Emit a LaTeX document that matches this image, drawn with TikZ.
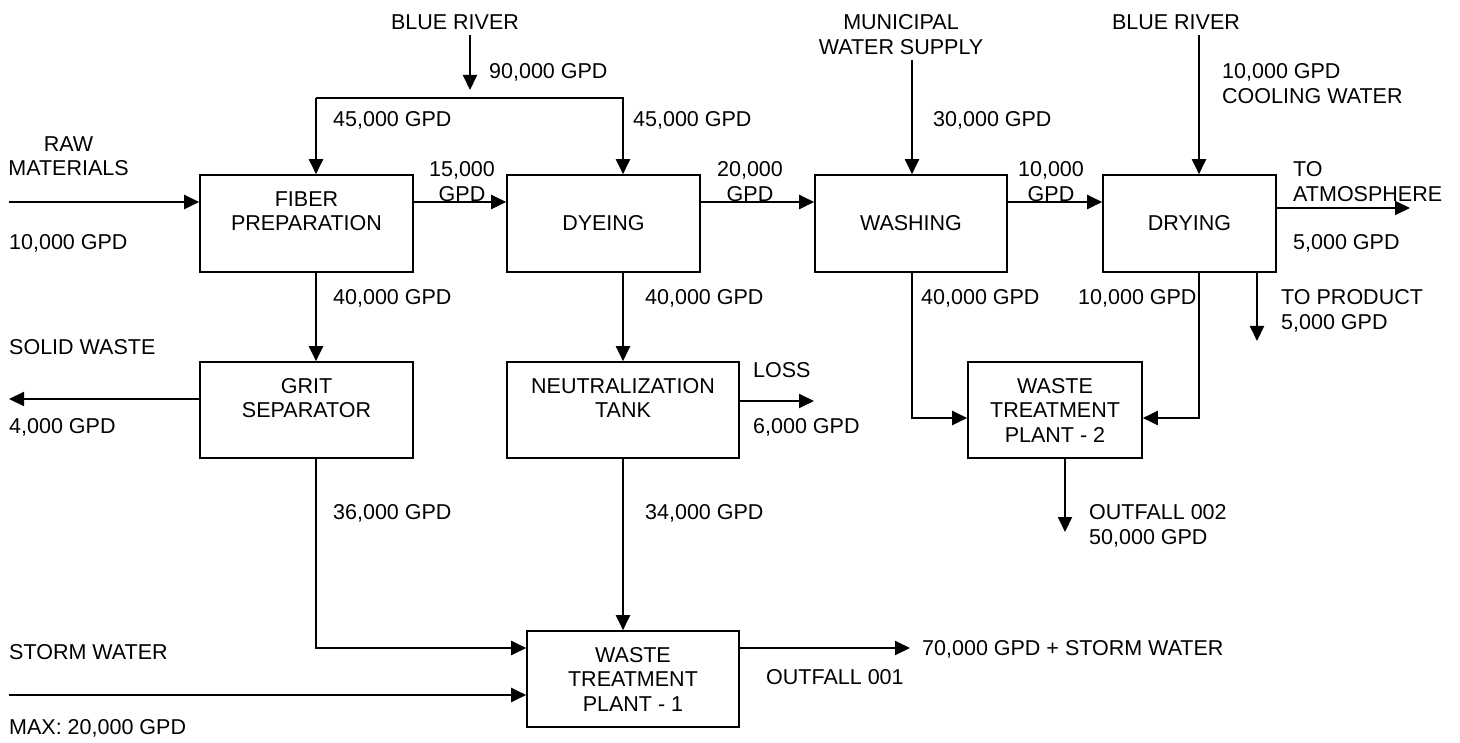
\documentclass[tikz,border=0pt]{standalone}
\usepackage{fontspec}
\setmainfont{Liberation Sans}
\usetikzlibrary{arrows.meta}
\begin{document}
\begin{tikzpicture}[x=1pt,y=-1pt,
  font=\fontsize{21.5}{24.5}\selectfont,
  box/.style={draw,line width=1.6pt,inner sep=0pt,align=center},
  arr/.style={line width=2pt,-{Triangle[length=15pt,width=14pt]}},
  ln/.style={line width=2pt},
  lbl/.style={anchor=north west,inner sep=0pt,align=left},
  lblc/.style={anchor=north,inner sep=0pt,align=center}]
\useasboundingbox (0,0) rectangle (1460,743);
% boxes
\node[box,minimum width=213pt,minimum height=97pt] (fiber) at (306.5,223.5) {FIBER\\PREPARATION\\~};
\node[box,minimum width=193pt,minimum height=97pt] (dye) at (603.5,223.5) {DYEING};
\node[box,minimum width=192pt,minimum height=97pt] (wash) at (911,223.5) {WASHING};
\node[box,minimum width=173pt,minimum height=97pt] (dry) at (1189.5,223.5) {DRYING};
\node[box,minimum width=213pt,minimum height=96pt] (grit) at (306.5,410) {GRIT\\SEPARATOR\\~};
\node[box,minimum width=232pt,minimum height=96pt] (neut) at (623,410) {NEUTRALIZATION\\TANK\\~};
\node[box,minimum width=212pt,minimum height=96pt] (wtp1) at (633,679) {WASTE\\TREATMENT\\PLANT - 1};
\node[box,minimum width=174pt,minimum height=96pt] (wtp2) at (1055,410) {WASTE\\TREATMENT\\PLANT - 2};
% coordinates
\coordinate (brA) at (470,35);
\coordinate (brB) at (470,90);
\coordinate (sl) at (316,98);
\coordinate (sr) at (623,98);
\coordinate (r1) at (0,202);
\coordinate (raw) at (9,202);
\coordinate (atm) at (1410,208);
\coordinate (mun) at (912,60);
\coordinate (br2) at (1199,35);
\coordinate (wl) at (912,418);
\coordinate (dl) at (1199,418);
\coordinate (prodA) at (1257,272);
\coordinate (prodB) at (1257,341);
\coordinate (sw) at (9,399);
\coordinate (loss) at (814,401);
\coordinate (g1) at (316,648);
\coordinate (st) at (9,695);
\coordinate (of1) at (910,648);
\coordinate (of2A) at (1065,458);
\coordinate (of2B) at (1065,532);
% connectors
\draw[arr] (brA) -- (brB);
\draw[arr] (sl) -- (sl |- fiber.north);
\draw[arr] (sl) -- (sr) -- (sr |- dye.north);
\draw[arr] (raw) -- (raw -| fiber.west);
\draw[arr] (fiber.east |- r1) -- (dye.west |- r1);
\draw[arr] (dye.east |- r1) -- (wash.west |- r1);
\draw[arr] (wash.east |- r1) -- (dry.west |- r1);
\draw[arr] (dry.east |- atm) -- (atm);
\draw[arr] (mun) -- (mun |- wash.north);
\draw[arr] (br2) -- (br2 |- dry.north);
\draw[arr] (sl |- fiber.south) -- (sl |- grit.north);
\draw[arr] (sr |- dye.south) -- (sr |- neut.north);
\draw[arr] (wl |- wash.south) -- (wl) -- (wl -| wtp2.west);
\draw[arr] (dl |- dry.south) -- (dl) -- (dl -| wtp2.east);
\draw[arr] (prodA) -- (prodB);
\draw[arr] (grit.west |- sw) -- (sw);
\draw[arr] (neut.east |- loss) -- (loss);
\draw[arr] (sl |- grit.south) -- (g1) -- (g1 -| wtp1.west);
\draw[arr] (sr |- neut.south) -- (sr |- wtp1.north);
\draw[arr] (st) -- (st -| wtp1.west);
\draw[arr] (wtp1.east |- of1) -- (of1);
\draw[arr] (of2A) -- (of2B);
% labels
\node[lblc] (tBR1) at (455,14.5) {BLUE RIVER};
\node[lbl] (t90) at (489,63.5) {90,000 GPD};
\node[lbl] (t45a) at (333,111.5) {45,000 GPD};
\node[lbl] (t45b) at (633,111.5) {45,000 GPD};
\node[lblc] (tRaw) at (68.5,136.5) {RAW\\MATERIALS};
\node[lbl] (t10a) at (9,234.5) {10,000 GPD};
\node[lblc] (t15) at (462,161.5) {15,000\\GPD};
\node[lblc] (t20) at (750,161.5) {20,000\\GPD};
\node[lblc] (tMun) at (901,14.5) {MUNICIPAL\\WATER SUPPLY};
\node[lbl] (t30) at (933,111.5) {30,000 GPD};
\node[lblc] (t10b) at (1051,161.5) {10,000\\GPD};
\node[lblc] (tBR2) at (1176,14.5) {BLUE RIVER};
\node[lbl] (tCool) at (1222,63.5) {10,000 GPD\\COOLING WATER};
\node[lbl] (tAtm) at (1293,161.5) {TO\\ATMOSPHERE};
\node[lbl] (t5a) at (1293,234.5) {5,000 GPD};
\node[lbl] (t40a) at (333,289.5) {40,000 GPD};
\node[lbl] (t40b) at (645,289.5) {40,000 GPD};
\node[lbl] (t40c) at (921,289.5) {40,000 GPD};
\node[lbl] (t10c) at (1078,289.5) {10,000 GPD};
\node[lbl] (tProd) at (1281,289.5) {TO PRODUCT\\5,000 GPD};
\node[lbl] (tSolid) at (9,339.5) {SOLID WASTE};
\node[lbl] (t4) at (9,418.5) {4,000 GPD};
\node[lbl] (tLoss) at (753,362.5) {LOSS};
\node[lbl] (t6) at (753,418.5) {6,000 GPD};
\node[lbl] (t36) at (333,504.5) {36,000 GPD};
\node[lbl] (t34) at (645,504.5) {34,000 GPD};
\node[lbl] (tOf2) at (1089,504.5) {OUTFALL 002\\50,000 GPD};
\node[lbl] (tStorm) at (9,644.5) {STORM WATER};
\node[lbl] (tMax) at (9,719.5) {MAX: 20,000 GPD};
\node[lbl] (t70) at (922,640.5) {70,000 GPD + STORM WATER};
\node[lbl] (tOf1) at (766,669.5) {OUTFALL 001};
\end{tikzpicture}
\end{document}
